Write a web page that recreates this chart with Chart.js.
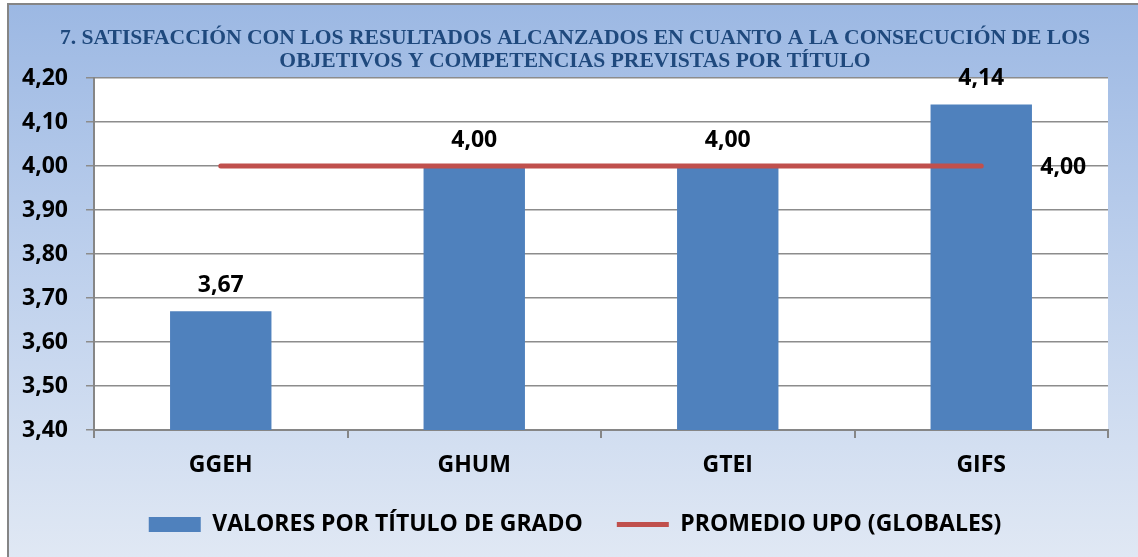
<!DOCTYPE html>
<html>
<head>
<meta charset="utf-8">
<script src="https://cdn.jsdelivr.net/npm/chart.js@4.4.1/dist/chart.umd.min.js"></script>
<style>
html,body{margin:0;padding:0;background:#fff;}
#wrap{position:relative;width:1138px;height:557px;}
</style>
</head>
<body>
<div id="wrap"><canvas id="c" width="1138" height="557"></canvas></div>
<script>
const categories = ['GGEH', 'GHUM', 'GTEI', 'GIFS'];
const valoresPorTitulo = [3.67, 4.00, 4.00, 4.14];
const promedioUPO = [4.00, 4.00, 4.00, 4.00];
const seriesNames = ['VALORES POR TÍTULO DE GRADO', 'PROMEDIO UPO (GLOBALES)'];
const titleLines = ['7. SATISFACCIÓN CON LOS RESULTADOS ALCANZADOS EN CUANTO A LA CONSECUCIÓN DE LOS', 'OBJETIVOS Y COMPETENCIAS PREVISTAS POR TÍTULO'];
const yMin = 3.40, yMax = 4.20, yStep = 0.10;

const fmt = v => Number(v).toFixed(2).replace('.', ',');
const LABEL_FONT = '"Open Sans"';
const FS = 23;

const backgroundPlugin = {
  id: 'bgPlugin',
  beforeDraw(chart) {
    const ctx = chart.ctx;
    const W = chart.width, H = chart.height;
    ctx.save();
    ctx.fillStyle = '#ffffff';
    ctx.fillRect(0, 0, W, H);
    const g = ctx.createLinearGradient(0, 4, 0, H);
    g.addColorStop(0, '#9cb8e3');
    g.addColorStop(0.45, '#bccfec');
    g.addColorStop(1, '#e0e8f4');
    ctx.fillStyle = g;
    ctx.fillRect(8, 4, W - 8, H - 4);
    ctx.strokeStyle = '#858585';
    ctx.lineWidth = 2;
    ctx.beginPath();
    ctx.moveTo(8, H);
    ctx.lineTo(8, 4);
    ctx.lineTo(W, 4);
    ctx.stroke();
    const a = chart.chartArea;
    ctx.fillStyle = '#ffffff';
    ctx.fillRect(a.left, a.top, a.right - a.left, a.bottom - a.top);
    ctx.restore();
  }
};

const valueLabelPlugin = {
  id: 'valueLabels',
  afterDatasetsDraw(chart) {
    const ctx = chart.ctx;
    ctx.save();
    ctx.font = 'bold ' + FS + 'px ' + LABEL_FONT;
    ctx.fillStyle = '#000000';
    ctx.textBaseline = 'middle';
    const barMeta = chart.getDatasetMeta(0);
    ctx.textAlign = 'center';
    barMeta.data.forEach((el, i) => {
      ctx.fillText(fmt(chart.data.datasets[0].data[i]), el.x, el.y - 26);
    });
    const lineMeta = chart.getDatasetMeta(1);
    const last = lineMeta.data.length - 1;
    const pt = lineMeta.data[last];
    ctx.textAlign = 'left';
    ctx.fillText(fmt(chart.data.datasets[1].data[last]), pt.x + 59, pt.y + 1);
    ctx.restore();
  }
};

new Chart(document.getElementById('c'), {
  data: {
    labels: categories,
    datasets: [
      {
        type: 'bar',
        label: seriesNames[0],
        data: valoresPorTitulo,
        backgroundColor: '#4f81bd',
        borderWidth: 0,
        barPercentage: 0.4,
        categoryPercentage: 1.0,
        pointStyle: 'rect',
        yAxisID: 'y',
        order: 1
      },
      {
        type: 'line',
        label: seriesNames[1],
        data: promedioUPO,
        borderColor: '#c0504d',
        backgroundColor: '#c0504d',
        borderWidth: 5,
        borderCapStyle: 'round',
        pointRadius: 0,
        pointHoverRadius: 0,
        pointStyle: 'line',
        fill: false,
        yAxisID: 'y',
        order: 0
      }
    ]
  },
  options: {
    responsive: false,
    animation: false,
    devicePixelRatio: 1,
    layout: { padding: { left: 12, right: 0, top: 0, bottom: 11 } },
    plugins: {
      tooltip: { enabled: false },
      title: {
        display: true,
        text: titleLines,
        color: '#1f497d',
        font: { family: 'Liberation Serif', size: 21.6, weight: 'bold', lineHeight: 23 / 21.6 },
        padding: { top: 27, bottom: 5 }
      },
      legend: {
        position: 'bottom',
        labels: {
          usePointStyle: true,
          pointStyleWidth: 52,
          boxHeight: 15,
          padding: 34,
          color: '#000000',
          font: { family: LABEL_FONT, size: FS, weight: 'bold' },
          sort: (a, b) => a.datasetIndex - b.datasetIndex
        }
      }
    },
    scales: {
      x: {
        offset: true,
        afterFit: s => { s.height = 49; },
        grid: {
          offset: true,
          drawOnChartArea: false,
          drawTicks: true,
          tickLength: 8,
          color: '#868686',
          lineWidth: 2
        },
        border: { display: true, color: '#868686', width: 2 },
        ticks: {
          padding: 14,
          color: '#000000',
          font: { family: LABEL_FONT, size: FS, weight: 'bold' }
        }
      },
      y: {
        min: yMin,
        max: yMax,
        position: 'left',
        afterFit: s => { s.width = 82; },
        grid: {
          color: '#8c8c8c',
          lineWidth: 1.5,
          tickLength: 8,
          drawTicks: true
        },
        border: { display: true, color: '#868686', width: 2 },
        ticks: {
          stepSize: yStep,
          padding: 18,
          color: '#000000',
          font: { family: LABEL_FONT, size: FS, weight: 'bold' },
          callback: v => fmt(v)
        }
      },
      yRightSpace: {
        type: 'linear',
        position: 'right',
        display: true,
        afterFit: s => { s.width = 30; },
        grid: { display: false, drawTicks: false },
        border: { display: false },
        ticks: { display: false }
      }
    }
  },
  plugins: [backgroundPlugin, valueLabelPlugin]
});
</script>
</body>
</html>
